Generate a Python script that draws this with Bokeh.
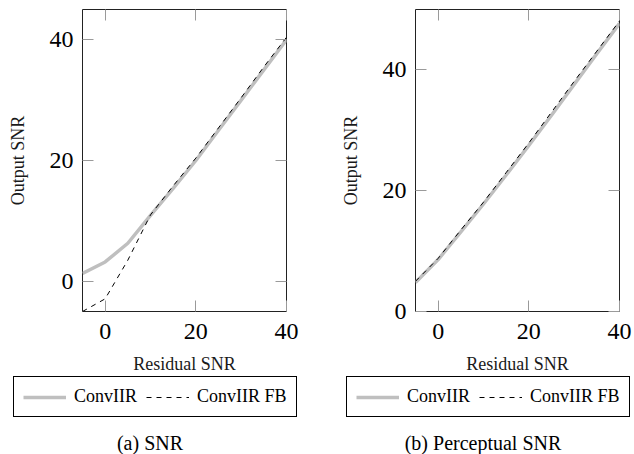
from bokeh.plotting import figure
from bokeh.layouts import row, column
from bokeh.models import Range1d, FixedTicker, LinearAxis, Legend, LegendItem, Label
from bokeh.embed import file_html
from bokeh.resources import INLINE

# ---- data ----
residual_snr = [-5, 0, 5, 10, 15, 20, 25, 30, 35, 40]
snr_conviir = [1.3, 3.2, 6.3, 10.9, 15.4, 20.0, 25.0, 30.0, 35.0, 40.0]
snr_conviir_fb = [-5.0, -2.9, 3.5, 11.0, 15.8, 20.4, 25.4, 30.4, 35.5, 40.4]
psnr_conviir = [4.8, 8.6, 13.2, 17.8, 22.6, 27.5, 32.5, 37.6, 42.7, 47.7]
psnr_conviir_fb = [5.0, 8.8, 13.5, 18.1, 23.0, 27.9, 33.0, 38.1, 43.1, 48.1]
x_ticks = [0, 20, 40]
y_ticks = [0, 20, 40]
series_labels = ["ConvIIR", "ConvIIR FB"]
captions = ["(a)  SNR", "(b)  Perceptual SNR"]
x_label = "Residual SNR"
y_label = "Output SNR"

FONT = "Liberation Serif"
W = 317
H_TOP = 376
H_BOT = 454 - H_TOP
GRAY = "#bfbfbf"
TICK = "#9a9a9a"


def style_lines(p, y1, y2, visible=True):
    r1 = p.line(residual_snr, y1, line_color=GRAY, line_width=3.5, visible=visible)
    r2 = p.line(residual_snr, y2, line_color="black", line_width=1, line_dash="5 5",
                visible=visible)
    return r1, r2


def make_plot(y1, y2, yr, bl, br):
    p = figure(width=W, height=H_TOP, x_range=Range1d(-5, 40), y_range=Range1d(*yr),
               output_backend="svg", toolbar_location=None,
               min_border_left=bl, min_border_right=br, min_border_top=9,
               min_border_bottom=H_TOP - 312)
    p.grid.visible = False
    p.outline_line_color = "#222222"
    p.outline_line_width = 1

    for ax in (p.xaxis[0], p.yaxis[0]):
        ax.axis_line_color = None
        ax.major_tick_in = 11
        ax.major_tick_out = 0
        ax.major_tick_line_color = TICK
        ax.minor_tick_line_color = None
        ax.major_label_text_font = FONT
        ax.major_label_text_font_size = "24px"
        ax.major_label_text_color = "black"
        ax.axis_label_text_font = FONT
        ax.axis_label_text_font_size = "18px"
        ax.axis_label_text_font_style = "normal"
        ax.axis_label_text_color = "#1a1a1a"
    p.xaxis[0].ticker = FixedTicker(ticks=x_ticks)
    p.yaxis[0].ticker = FixedTicker(ticks=y_ticks)
    p.xaxis[0].axis_label = x_label
    p.yaxis[0].axis_label = y_label
    p.xaxis[0].major_label_standoff = 12
    p.xaxis[0].axis_label_standoff = 12
    p.yaxis[0].major_label_standoff = 9
    p.yaxis[0].axis_label_standoff = 19

    # mirrored ticks on top and right
    for loc, tks in (("right", y_ticks), ("above", x_ticks)):
        ax = LinearAxis(ticker=FixedTicker(ticks=tks), axis_line_color=None,
                        major_tick_in=11, major_tick_out=0,
                        major_tick_line_color=TICK, minor_tick_line_color=None,
                        major_label_text_font_size="0px", major_label_standoff=0,
                        major_label_overrides={t: "" for t in tks})
        p.add_layout(ax, loc)

    style_lines(p, y1, y2)
    return p


def make_legend(y1, y2, caption, lx, cx):
    q = figure(width=W, height=H_BOT, x_range=Range1d(-5, 40), y_range=Range1d(-5, 50),
               output_backend="svg", toolbar_location=None,
               x_axis_location=None, y_axis_location=None,
               min_border_left=0, min_border_right=0, min_border_top=0, min_border_bottom=0)
    q.grid.visible = False
    q.outline_line_color = None
    r1, r2 = style_lines(q, y1, y2, visible=False)
    legend = Legend(items=[LegendItem(label=series_labels[0], renderers=[r1]),
                           LegendItem(label=series_labels[1], renderers=[r2])],
                    orientation="horizontal", location=(lx, 37), margin=0,
                    padding=9, spacing=9, label_standoff=8, glyph_width=43, glyph_height=20,
                    border_line_color="black", border_line_width=1, border_line_alpha=1,
                    background_fill_color="white", background_fill_alpha=1,
                    label_text_font=FONT, label_text_font_size="18px",
                    label_text_color="black", click_policy="none")
    q.add_layout(legend)
    q.add_layout(Label(x=cx, y=12, x_units="screen", y_units="screen", text=caption,
                       text_align="center", text_baseline="middle",
                       text_font=FONT, text_font_size="20px", text_color="black"))
    return q


p1 = make_plot(snr_conviir, snr_conviir_fb, (-5, 45), 82, W - 82 - 204)
p2 = make_plot(psnr_conviir, psnr_conviir_fb, (0, 50), 98, W - 98 - 204)
q1 = make_legend(snr_conviir, snr_conviir_fb, captions[0], 13, 152)
q2 = make_legend(psnr_conviir, psnr_conviir_fb, captions[1], 29, 168)

layout = column(row(p1, p2), row(q1, q2))
open("out.html", "w").write(file_html(layout, INLINE))
